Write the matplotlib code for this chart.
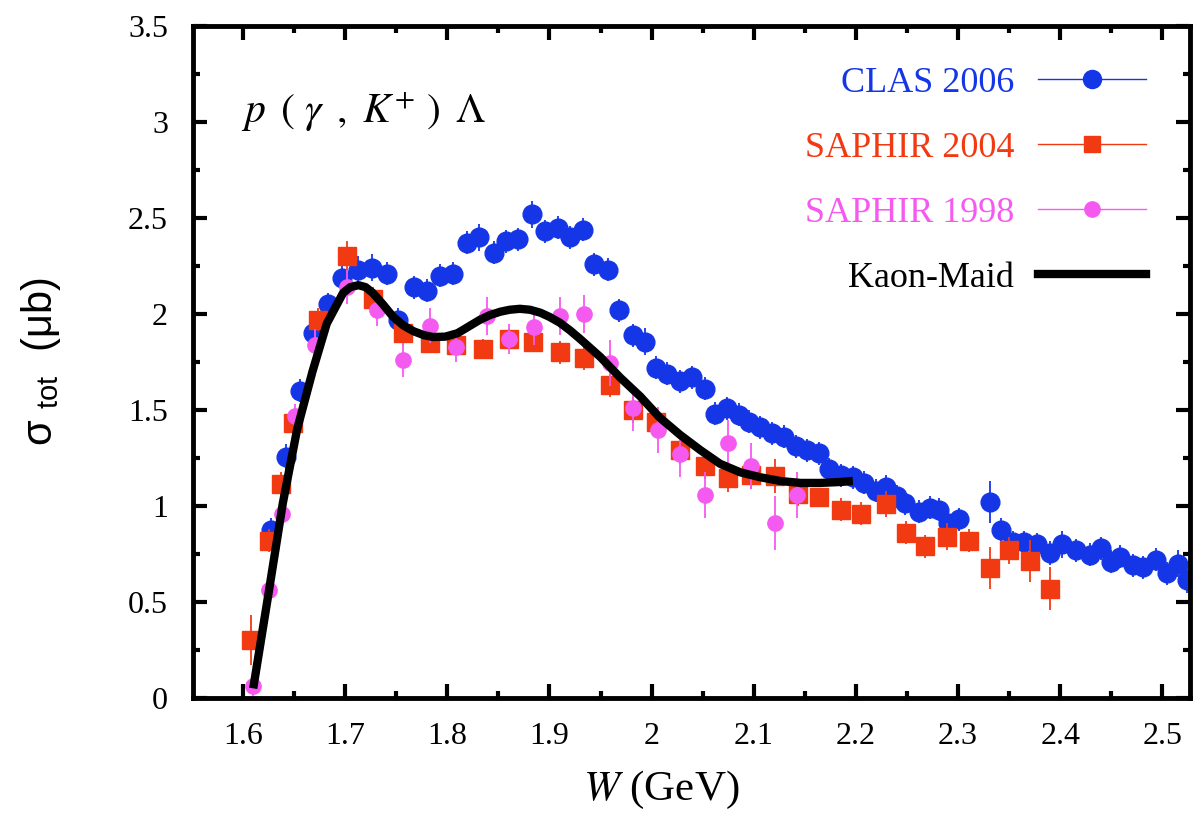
import matplotlib
matplotlib.use("Agg")
import matplotlib.pyplot as plt
from matplotlib.lines import Line2D
from matplotlib.ticker import MultipleLocator, FuncFormatter

# CLAS 2006
clas_w = [1.627, 1.642, 1.656, 1.669, 1.683, 1.697, 1.713, 1.726, 1.741, 1.752,
          1.767, 1.780, 1.793, 1.806, 1.819, 1.831, 1.846, 1.857, 1.869, 1.883,
          1.896, 1.908, 1.920, 1.933, 1.944, 1.957, 1.968, 1.982, 1.994, 2.004,
          2.015, 2.028, 2.040, 2.052, 2.062, 2.074, 2.086, 2.095, 2.106, 2.118,
          2.130, 2.141, 2.152, 2.164, 2.174, 2.185, 2.197, 2.208, 2.220, 2.229,
          2.240, 2.248, 2.262, 2.273, 2.281, 2.290, 2.301, 2.331, 2.342, 2.354,
          2.365, 2.377, 2.390, 2.402, 2.415, 2.429, 2.440, 2.450, 2.459, 2.471,
          2.481, 2.494, 2.505, 2.515, 2.524]
clas_sig = [0.875, 1.255, 1.60, 1.90, 2.05, 2.19, 2.23, 2.24, 2.21, 1.97,
            2.14, 2.12, 2.20, 2.21, 2.37, 2.40, 2.32, 2.38, 2.39, 2.52,
            2.43, 2.45, 2.40, 2.44, 2.26, 2.23, 2.02, 1.89, 1.855, 1.72,
            1.69, 1.65, 1.67, 1.61, 1.48, 1.51, 1.475, 1.44, 1.41, 1.38,
            1.36, 1.31, 1.29, 1.275, 1.19, 1.16, 1.15, 1.12, 1.08, 1.10,
            1.05, 1.015, 0.97, 0.99, 0.98, 0.91, 0.93, 1.02, 0.875, 0.81,
            0.81, 0.80, 0.755, 0.80, 0.77, 0.745, 0.78, 0.71, 0.735, 0.69,
            0.68, 0.72, 0.65, 0.70, 0.615]
clas_err = [0.06, 0.07, 0.06, 0.06, 0.06, 0.06, 0.07, 0.07, 0.06, 0.06,
            0.06, 0.06, 0.06, 0.06, 0.06, 0.07, 0.06, 0.06, 0.06, 0.07,
            0.06, 0.06, 0.06, 0.06, 0.06, 0.06, 0.06, 0.06, 0.07, 0.06,
            0.06, 0.06, 0.06, 0.06, 0.06, 0.06, 0.06, 0.06, 0.06, 0.06,
            0.06, 0.06, 0.06, 0.06, 0.06, 0.06, 0.06, 0.06, 0.06, 0.06,
            0.06, 0.06, 0.06, 0.06, 0.06, 0.07, 0.06, 0.11, 0.06, 0.06,
            0.06, 0.06, 0.06, 0.07, 0.06, 0.06, 0.06, 0.06, 0.06, 0.06,
            0.06, 0.06, 0.06, 0.07, 0.07]

# SAPHIR 2004
s04_w = [1.608, 1.625, 1.637, 1.649, 1.673, 1.702, 1.727, 1.757, 1.783, 1.809,
         1.835, 1.860, 1.884, 1.910, 1.934, 1.959, 1.982, 2.004, 2.028, 2.052,
         2.075, 2.097, 2.121, 2.143, 2.164, 2.185, 2.205, 2.229, 2.249, 2.268,
         2.289, 2.311, 2.331, 2.350, 2.370, 2.390]
s04_sig = [0.30, 0.82, 1.115, 1.43, 1.97, 2.30, 2.08, 1.90, 1.85, 1.84,
           1.82, 1.87, 1.855, 1.80, 1.77, 1.63, 1.50, 1.44, 1.29, 1.21,
           1.145, 1.16, 1.155, 1.06, 1.045, 0.98, 0.96, 1.01, 0.86, 0.79,
           0.84, 0.82, 0.675, 0.77, 0.715, 0.57]
s04_err = [0.13, 0.06, 0.06, 0.06, 0.06, 0.08, 0.06, 0.06, 0.05, 0.05,
           0.05, 0.05, 0.05, 0.06, 0.06, 0.06, 0.07, 0.07, 0.07, 0.07,
           0.07, 0.07, 0.09, 0.06, 0.05, 0.06, 0.06, 0.07, 0.06, 0.06,
           0.07, 0.06, 0.11, 0.07, 0.11, 0.11]

# SAPHIR 1998
s98_w = [1.610, 1.625, 1.638, 1.651, 1.670, 1.702, 1.731, 1.757, 1.783, 1.809,
         1.839, 1.860, 1.885, 1.910, 1.934, 1.959, 1.982, 2.006, 2.028, 2.052,
         2.075, 2.097, 2.121, 2.142]
s98_sig = [0.06, 0.56, 0.96, 1.47, 1.84, 2.14, 2.02, 1.76, 1.94, 1.83,
           1.99, 1.87, 1.93, 1.99, 2.00, 1.745, 1.51, 1.395, 1.27, 1.055,
           1.33, 1.21, 0.91, 1.055]
s98_err = [0.05, 0.06, 0.07, 0.06, 0.08, 0.09, 0.08, 0.09, 0.09, 0.08,
           0.10, 0.08, 0.09, 0.10, 0.10, 0.12, 0.12, 0.12, 0.12, 0.12,
           0.12, 0.12, 0.14, 0.12]

# Kaon-Maid model curve
maid_w = [1.610, 1.625, 1.639, 1.653, 1.668, 1.682, 1.698, 1.705, 1.713, 1.720,
          1.727, 1.737, 1.747, 1.757, 1.767, 1.777, 1.786, 1.798, 1.810, 1.821,
          1.832, 1.842, 1.852, 1.861, 1.871, 1.881, 1.891, 1.900, 1.910, 1.920,
          1.930, 1.950, 1.969, 1.989, 2.008, 2.028, 2.048, 2.067, 2.087, 2.106,
          2.126, 2.146, 2.165, 2.185, 2.197]
maid_sig = [0.05, 0.545, 1.015, 1.40, 1.70, 1.95, 2.11, 2.14, 2.15, 2.14,
            2.11, 2.05, 1.985, 1.94, 1.91, 1.89, 1.88, 1.882, 1.90, 1.935,
            1.97, 1.995, 2.012, 2.022, 2.027, 2.022, 2.007, 1.985, 1.955, 1.915,
            1.87, 1.775, 1.67, 1.57, 1.46, 1.37, 1.29, 1.22, 1.175, 1.15,
            1.13, 1.12, 1.12, 1.125, 1.13]

blue = "#1436e6"
red = "#f23a12"
pink = "#f55af0"

plt.rcParams["font.family"] = ["Liberation Serif", "DejaVu Serif"]
plt.rcParams["mathtext.rm"] = "Liberation Sans"

fig = plt.figure(figsize=(11.94, 8.13), dpi=100)
ax = fig.add_axes([0.1616, 0.1415, 0.8350, 0.8265])

ax.errorbar(clas_w, clas_sig, yerr=clas_err, fmt="o", color=blue, ms=13.5,
            elinewidth=1.3, capsize=0, zorder=2)
ax.errorbar(s04_w, s04_sig, yerr=s04_err, fmt="s", color=red, ms=13,
            elinewidth=1.3, capsize=0, zorder=3)
ax.errorbar(s98_w, s98_sig, yerr=s98_err, fmt="o", color=pink, ms=11,
            elinewidth=1.3, capsize=0, zorder=4)
ax.plot(maid_w, maid_sig, color="black", lw=6, solid_capstyle="butt",
        solid_joinstyle="round", zorder=5)

ax.set_xlim(1.551, 2.527)
ax.set_ylim(0, 3.5)
ax.xaxis.set_major_locator(MultipleLocator(0.1))
ax.xaxis.set_minor_locator(MultipleLocator(0.05))
ax.yaxis.set_major_locator(MultipleLocator(0.5))
ax.yaxis.set_minor_locator(MultipleLocator(0.25))
fmt = FuncFormatter(lambda v, p: "%g" % round(v, 2))
ax.xaxis.set_major_formatter(fmt)
ax.yaxis.set_major_formatter(fmt)

ax.tick_params(which="both", direction="in", top=True, right=True, width=3)
ax.tick_params(which="major", length=10, labelsize=23)
ax.tick_params(which="minor", length=5)
ax.tick_params(axis="x", which="major", pad=17)
ax.tick_params(axis="y", which="major", pad=18)
for s in ax.spines.values():
    s.set_linewidth(3.5)

ax.set_xlabel(r"$W$ (GeV)", fontsize=31, math_fontfamily="stix")
ax.xaxis.set_label_coords(0.47, -0.105)
ax.set_ylabel(r"σ $_{\mathrm{tot}}$  (μb)", fontsize=30,
              family="Liberation Sans", math_fontfamily="custom")
ax.yaxis.set_label_coords(-0.13, 0.5)

ax.text(0.048, 0.855, r"$p\ \,(\ \gamma\ \,,\ K^{+}\ )\ \,\Lambda$", transform=ax.transAxes,
        fontsize=30, math_fontfamily="stix")

handles = [
    Line2D([], [], color=blue, marker="o", ms=13, lw=1),
    Line2D([], [], color=red, marker="s", ms=12, lw=1),
    Line2D([], [], color=pink, marker="o", ms=11, lw=1),
    Line2D([], [], color="black", lw=6),
]
labels = ["CLAS 2006", "SAPHIR 2004", "SAPHIR 1998", "Kaon-Maid"]
leg = ax.legend(handles, labels, loc="upper right", bbox_to_anchor=(0.974, 0.967),
                frameon=False, markerfirst=False,
                prop={"family": "Liberation Serif", "size": 26}, handlelength=3.0,
                handletextpad=0.65, labelspacing=0.88, borderpad=0)
for t, c in zip(leg.get_texts(), [blue, red, pink, "black"]):
    t.set_color(c)

fig.savefig("out.png", dpi=100)
